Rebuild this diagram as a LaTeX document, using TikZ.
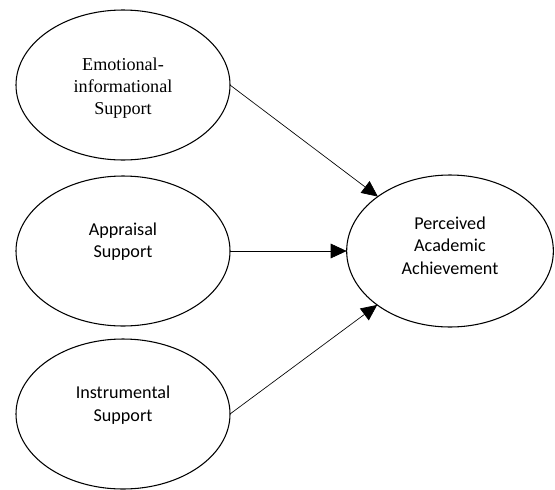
\documentclass[tikz,border=0pt]{standalone}
\usepackage{fontspec}
\setmainfont{Carlito}
\newfontfamily\timesfont{Liberation Serif}
\usetikzlibrary{shapes.geometric}
\usetikzlibrary{arrows.meta}
\tikzset{>={Triangle[length=12pt,width=11pt]}}

\begin{document}
\begin{tikzpicture}[x=0.75pt,y=-0.75pt]
        % left column = kinds of support, right = outcome
        \tikzstyle{factor}=[ellipse, draw=black, line width=0.8pt, inner sep=0pt, outer sep=0pt, minimum width=160.5pt, minimum height=112.5pt]
        \tikzstyle{caption}=[align=center, font=\fontsize{13.6pt}{17pt}\selectfont]
        \tikzstyle{every edge}=[black, ->, line width=0.5pt, draw]
        \useasboundingbox (0,0) rectangle (555,489);
        \node[factor] (E) at (123,85) {};
        \node[caption, font=\timesfont\fontsize{13.6pt}{16.3pt}\selectfont] (Et) at ([yshift=-2.5pt]E.center) {Emotional-\\informational\\Support};
        \node[factor] (A) at (123,251) {};
        \node[caption] (At) at ([yshift=7pt]A.center) {Appraisal\\Support};
        \node[factor] (I) at (123,414) {};
        \node[caption] (It) at ([yshift=6.5pt]I.center) {Instrumental\\Support};
        \node[factor, minimum width=155pt, minimum height=114pt] (P) at (450,251) {};
        \node[caption] (Pt) at ([yshift=4pt]P.center) {Perceived\\Academic\\Achievement};

        \draw (E.east) edge (P);
        \draw (A) edge (P);
        \draw (I.east) edge (P);
\end{tikzpicture}
\end{document}
